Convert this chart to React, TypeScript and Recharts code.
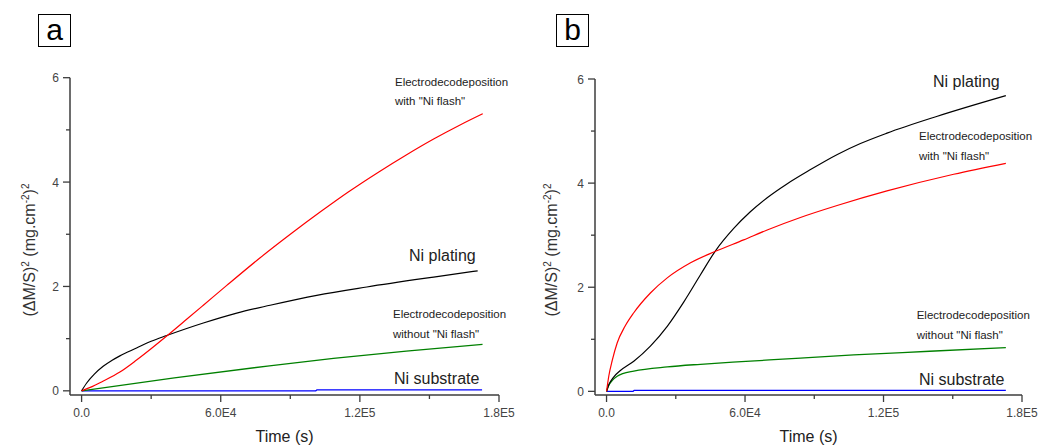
import { LineChart, Line, XAxis, YAxis } from 'recharts';

// x ticks (s) and their labels
const xTicks = [0, 30000, 60000, 90000, 120000, 150000, 180000];
const xTickLabels: Record<number, string> = { 0: '0.0', 60000: '6.0E4', 120000: '1.2E5', 180000: '1.8E5' };
const yTicks = [0, 1, 2, 3, 4, 5, 6];
const yTickLabels: Record<number, string> = { 0: '0', 2: '2', 4: '4', 6: '6' };

// panel a
const aFlashT = [0, 4000, 9000, 16500, 23700, 30900, 36700, 45300, 52500, 62600, 77000, 90000, 103000, 115000, 128000, 140000, 152000, 163000, 173000];
const aFlashV = [0, 0.07, 0.18, 0.36, 0.59, 0.84, 1.05, 1.37, 1.64, 2.02, 2.55, 3.0, 3.43, 3.81, 4.19, 4.52, 4.83, 5.09, 5.31];
const aPlatingT = [0, 2200, 5500, 9300, 13000, 16500, 23700, 30000, 36700, 52500, 66900, 81300, 101400, 123000, 151800, 170800];
const aPlatingV = [0, 0.15, 0.32, 0.47, 0.58, 0.67, 0.82, 0.95, 1.06, 1.3, 1.49, 1.64, 1.83, 1.99, 2.18, 2.3];
const aNoFlashT = [0, 40000, 81000, 108600, 140000, 172900];
const aNoFlashV = [0, 0.25, 0.48, 0.62, 0.76, 0.89];
const aSubstrateT = [0, 101000, 101500, 172700];
const aSubstrateV = [0, 0, 0.02, 0.02];

// panel b
const bPlatingT = [0, 1000, 3000, 6000, 11800, 19000, 26300, 33500, 40700, 47200, 55100, 62300, 69600, 78000, 88000, 100000, 110000, 121500, 143000, 173000];
const bPlatingV = [0, 0.13, 0.27, 0.4, 0.58, 0.87, 1.25, 1.72, 2.24, 2.7, 3.13, 3.45, 3.72, 3.98, 4.25, 4.55, 4.76, 4.96, 5.28, 5.68];
const bFlashT = [0, 1000, 2500, 4600, 8000, 11800, 19000, 26300, 36400, 47200, 59400, 69600, 84000, 99900, 121500, 150400, 173000];
const bFlashV = [0, 0.3, 0.6, 0.93, 1.25, 1.51, 1.89, 2.18, 2.47, 2.69, 2.91, 3.1, 3.34, 3.57, 3.85, 4.17, 4.38];
const bNoFlashT = [0, 800, 2500, 4600, 7000, 11800, 26300, 40700, 62300, 84000, 107100, 140000, 173000];
const bNoFlashV = [0, 0.1, 0.21, 0.29, 0.34, 0.39, 0.47, 0.52, 0.58, 0.64, 0.7, 0.77, 0.84];
const bSubstrateT = [0, 11500, 12000, 173000];
const bSubstrateV = [0, 0, 0.02, 0.02];

const FONT = '"Liberation Sans", Arial, sans-serif';
const AXIS = '#3c3c3c';

const zip = (t: number[], v: number[]) => t.map((x, i) => ({ t: x, v: v[i] }));

function XTick({ x, y, payload }: any) {
  const major = payload.value % 60000 === 0;
  return (
    <g>
      <line x1={x} x2={x} y1={y} y2={y + (major ? 7 : 4)} stroke={AXIS} strokeWidth={1.3} />
      {major && (
        <text x={x} y={y + 22} textAnchor="middle" fontSize={12} fill="#444" fontFamily={FONT}>
          {xTickLabels[payload.value]}
        </text>
      )}
    </g>
  );
}

function YTick({ x, y, payload }: any) {
  const major = payload.value % 2 === 0;
  return (
    <g>
      <line x1={x - (major ? 7 : 4)} x2={x} y1={y} y2={y} stroke={AXIS} strokeWidth={1.3} />
      {major && (
        <text x={x - 11} y={y + 4.5} textAnchor="end" fontSize={12} fill="#444" fontFamily={FONT}>
          {yTickLabels[payload.value]}
        </text>
      )}
    </g>
  );
}

interface Note {
  lines: string[];
  left: number;
  top: number;
  size: number;
  gap: number;
}

interface PanelProps {
  letter: string;
  width: number;
  axisLeft: number;
  plotTop: number;
  right: number;
  yMin: number;
  black: { t: number; v: number }[];
  red: { t: number; v: number }[];
  green: { t: number; v: number }[];
  blue: { t: number; v: number }[];
  notes: Note[];
  yTitleX: number;
  boxLeft: number;
}

function Panel(p: PanelProps) {
  const plotCenter = (p.axisLeft + p.width - p.right) / 2;
  return (
    <div style={{ position: 'relative', width: p.width, height: 446 }}>
      <LineChart width={p.width} height={446} margin={{ top: p.plotTop, right: p.right, bottom: 0, left: 0 }}>
        <XAxis
          type="number"
          dataKey="t"
          domain={[-5000, 180000]}
          ticks={xTicks}
          interval={0}
          tickSize={0}
          tickMargin={0}
          tickLine={false}
          height={51}
          axisLine={{ stroke: AXIS, strokeWidth: 1.5 }}
          tick={(props: any) => <XTick {...props} />}
          allowDataOverflow
        />
        <YAxis
          type="number"
          domain={[p.yMin, 6]}
          ticks={yTicks}
          interval={0}
          tickSize={0}
          tickMargin={0}
          tickLine={false}
          width={p.axisLeft}
          axisLine={{ stroke: AXIS, strokeWidth: 1.5 }}
          tick={(props: any) => <YTick {...props} />}
          allowDataOverflow
        />
        <Line data={p.blue} dataKey="v" type="linear" stroke="#0000ff" strokeWidth={1.3} dot={false} isAnimationActive={false} />
        <Line data={p.green} dataKey="v" type="monotone" stroke="#008000" strokeWidth={1.3} dot={false} isAnimationActive={false} />
        <Line data={p.black} dataKey="v" type="monotone" stroke="#000000" strokeWidth={1.2} dot={false} isAnimationActive={false} />
        <Line data={p.red} dataKey="v" type="monotone" stroke="#ff0000" strokeWidth={1.2} dot={false} isAnimationActive={false} />
      </LineChart>

      <div
        style={{
          position: 'absolute', left: p.boxLeft, top: 14, width: 31, height: 31,
          border: '1.5px solid #000', fontFamily: FONT, fontSize: 30, lineHeight: '30px',
          textAlign: 'center', color: '#000',
        }}
      >
        {p.letter}
      </div>

      {p.notes.map((n, i) => (
        <div key={i} style={{ position: 'absolute', left: n.left, top: n.top, fontFamily: FONT, fontSize: n.size, lineHeight: `${n.gap}px`, color: '#222', whiteSpace: 'nowrap' }}>
          {n.lines.map((l, j) => <div key={j}>{l}</div>)}
        </div>
      ))}

      <div
        style={{
          position: 'absolute', left: p.yTitleX - 100, top: 250 - 10, width: 200, height: 20,
          transform: 'rotate(-90deg)', textAlign: 'center', fontFamily: FONT, fontSize: 16,
          lineHeight: '20px', color: '#333', whiteSpace: 'nowrap',
        }}
      >
        (ΔM/S)<sup style={{ fontSize: 10 }}>2</sup> (mg.cm<sup style={{ fontSize: 10 }}>-2</sup>)<sup style={{ fontSize: 10 }}>2</sup>
      </div>

      <div
        style={{
          position: 'absolute', left: plotCenter - 60, top: 427, width: 120, textAlign: 'center',
          fontFamily: FONT, fontSize: 16, lineHeight: '20px', color: '#222',
        }}
      >
        Time (s)
      </div>
    </div>
  );
}

export default function App() {
  return (
    <div style={{ position: 'absolute', left: 0, top: 0, width: 1042, height: 446, background: '#fff', display: 'flex' }}>
      <Panel
        letter="a"
        width={520}
        axisLeft={70}
        plotTop={77.7}
        right={21}
        yMin={-0.08}
        red={zip(aFlashT, aFlashV)}
        black={zip(aPlatingT, aPlatingV)}
        green={zip(aNoFlashT, aNoFlashV)}
        blue={zip(aSubstrateT, aSubstrateV)}
        boxLeft={38}
        yTitleX={26}
        notes={[
          { lines: ['Electrodecodeposition', 'with "Ni flash"'], left: 395, top: 73, size: 11.5, gap: 19 },
          { lines: ['Ni plating'], left: 409, top: 246, size: 16, gap: 20 },
          { lines: ['Electrodecodeposition', 'without "Ni flash"'], left: 393, top: 304, size: 11.5, gap: 20 },
          { lines: ['Ni substrate'], left: 394, top: 369, size: 16, gap: 20 },
        ]}
      />
      <Panel
        letter="b"
        width={522}
        axisLeft={75}
        plotTop={79}
        right={20}
        yMin={-0.07}
        red={zip(bFlashT, bFlashV)}
        black={zip(bPlatingT, bPlatingV)}
        green={zip(bNoFlashT, bNoFlashV)}
        blue={zip(bSubstrateT, bSubstrateV)}
        boxLeft={36}
        yTitleX={28}
        notes={[
          { lines: ['Ni plating'], left: 413, top: 72, size: 16, gap: 20 },
          { lines: ['Electrodecodeposition', 'with "Ni flash"'], left: 399, top: 127, size: 11.5, gap: 19.5 },
          { lines: ['Electrodecodeposition', 'without "Ni flash"'], left: 396.7, top: 305, size: 11.5, gap: 20 },
          { lines: ['Ni substrate'], left: 399, top: 370, size: 16, gap: 20 },
        ]}
      />
    </div>
  );
}
